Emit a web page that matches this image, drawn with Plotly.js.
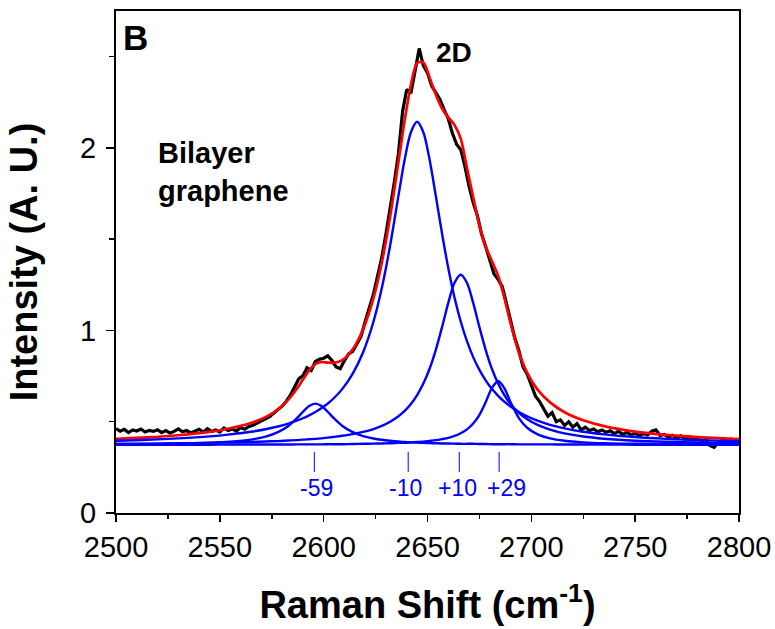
<!DOCTYPE html>
<html>
<head>
<meta charset="utf-8">
<script src="https://cdn.plot.ly/plotly-3.0.1.min.js"></script>
<style>html,body{margin:0;padding:0;background:#fff;}#chart{width:775px;height:629px;}</style>
</head>
<body>
<div id="chart"></div>
<script>
// Measured Raman spectrum (x in cm^-1, intensity in A.U.)
const dataX = [2500,2502,2504,2506,2508,2510,2512,2514,2516,2518,
2520,2522,2524,2526,2528,2530,2532,2534,2536,2538,
2540,2542,2544,2546,2548,2550,2552,2554,2556,2558,
2560,2562,2564,2566,2568,2570,2572,2574,2576,2578,
2580,2582,2584,2586,2588,2590,2592,2594,2596,2598,
2600,2602,2604,2606,2608,2610,2612,2614,2616,2618,
2620,2622,2624,2626,2628,2630,2632,2634,2636,2638,
2640,2642,2644,2646,2648,2650,2652,2654,2656,2658,
2660,2662,2664,2666,2668,2670,2672,2674,2676,2678,
2680,2682,2684,2686,2688,2690,2692,2694,2696,2698,
2700,2702,2704,2706,2708,2710,2712,2714,2716,2718,
2720,2722,2724,2726,2728,2730,2732,2734,2736,2738,
2740,2742,2744,2746,2748,2750,2752,2754,2756,2758,
2760,2762,2764,2766,2768,2770,2772,2774,2776,2778,
2780,2782,2784,2786,2788,2790,2792,2794,2796,2798,2800];
const dataY = [0.462,0.448,0.458,0.441,0.455,0.449,0.460,0.444,0.452,0.447,
0.456,0.440,0.451,0.438,0.447,0.461,0.445,0.452,0.439,0.450,
0.458,0.443,0.462,0.447,0.455,0.444,0.466,0.452,0.460,0.449,
0.468,0.459,0.474,0.481,0.492,0.505,0.517,0.528,0.548,0.566,
0.585,0.612,0.645,0.690,0.735,0.752,0.795,0.781,0.830,0.842,
0.848,0.861,0.835,0.800,0.790,0.835,0.872,0.885,0.930,0.968,
1.050,1.125,1.200,1.300,1.400,1.530,1.665,1.810,1.970,2.200,
2.320,2.300,2.420,2.545,2.450,2.410,2.340,2.300,2.265,2.210,
2.160,2.080,2.020,1.990,1.900,1.790,1.700,1.630,1.530,1.460,
1.390,1.310,1.280,1.240,1.150,1.050,0.960,0.890,0.800,0.760,
0.700,0.640,0.610,0.570,0.530,0.550,0.500,0.510,0.480,0.500,
0.470,0.490,0.455,0.470,0.452,0.460,0.445,0.455,0.442,0.450,
0.435,0.448,0.430,0.442,0.427,0.437,0.425,0.435,0.428,0.448,
0.455,0.425,0.430,0.415,0.425,0.410,0.422,0.405,0.418,0.402,
0.410,0.395,0.405,0.370,0.360,0.385,0.400,0.390,0.405,0.398,0.400];

// Fit curves sampled on a common x grid
const fitX = [2500,2515,2530,2545,2555,2565,2572,2578,2583,2587,
2590,2593,2596,2599,2602,2605,2609,2614,2619,2624,
2628,2632,2636,2639,2642,2645,2648,2651,2654,2657,
2660,2663,2666,2669,2672,2675,2678,2681,2684,2687,
2690,2694,2698,2703,2709,2716,2725,2735,2750,2765,2780,2800];
const fitTotal = [0.406,0.414,0.426,0.444,0.464,0.493,0.525,0.567,0.621,0.679,
0.731,0.781,0.816,0.827,0.824,0.823,0.838,0.897,1.007,1.178,
1.372,1.624,1.923,2.151,2.345,2.465,2.468,2.385,2.293,2.216,
2.167,2.126,2.051,1.890,1.730,1.575,1.460,1.380,1.300,1.180,
1.040,0.879,0.768,0.676,0.606,0.552,0.508,0.476,0.446,0.428,0.416,0.405];
const peakM59 = [0.376,0.378,0.380,0.385,0.391,0.402,0.418,0.443,0.477,0.518,
0.554,0.586,0.599,0.586,0.554,0.518,0.477,0.443,0.421,0.408,
0.401,0.396,0.392,0.389,0.387,0.386,0.384,0.383,0.382,0.381,
0.381,0.380,0.379,0.379,0.379,0.378,0.378,0.377,0.377,0.377,
0.377,0.376,0.376,0.376,0.376,0.375,0.375,0.375,0.374,0.374,0.374,0.374];
const peakM10 = [0.396,0.401,0.409,0.420,0.431,0.445,0.459,0.474,0.490,0.506,
0.519,0.535,0.553,0.575,0.600,0.630,0.680,0.764,0.881,1.049,
1.232,1.465,1.737,1.936,2.086,2.143,2.086,1.936,1.737,1.531,
1.342,1.181,1.049,0.941,0.854,0.784,0.727,0.680,0.642,0.610,
0.583,0.553,0.529,0.506,0.483,0.464,0.445,0.431,0.416,0.406,0.399,0.393];
const peakP10 = [0.379,0.380,0.382,0.384,0.387,0.389,0.392,0.394,0.397,0.399,
0.402,0.404,0.406,0.409,0.413,0.417,0.423,0.432,0.444,0.460,
0.477,0.500,0.530,0.559,0.597,0.646,0.709,0.790,0.894,1.018,
1.151,1.261,1.305,1.261,1.151,1.018,0.894,0.790,0.709,0.646,
0.597,0.549,0.514,0.483,0.457,0.436,0.419,0.407,0.396,0.390,0.386,0.382];
const peakP29 = [0.374,0.374,0.374,0.374,0.375,0.375,0.375,0.375,0.375,0.376,
0.376,0.376,0.376,0.376,0.377,0.377,0.377,0.378,0.379,0.380,
0.381,0.382,0.384,0.385,0.387,0.389,0.391,0.395,0.399,0.405,
0.412,0.422,0.437,0.458,0.490,0.538,0.607,0.684,0.723,0.684,
0.607,0.520,0.467,0.431,0.409,0.396,0.387,0.382,0.379,0.377,0.376,0.375];

// Shift markers
const shiftLabels = ['-59','-10','+10','+29'];
const shiftLinePos = [2595.5,2640.7,2665.3,2684.5];
const shiftLabelPos = [2596.5,2639.5,2664.5,2688.0];
const xTicks = [2500,2550,2600,2650,2700,2750,2800];
const yTicks = [0,1,2];

const FONT = 'Arial, "Liberation Sans", sans-serif';
const BLUE = '#0000ff';

const traces = [
  {x: dataX, y: dataY, mode: 'lines', name: 'Data', line: {color: '#000', width: 3.2}},
  {x: fitX, y: fitTotal, mode: 'lines', name: 'Fit', line: {color: '#ff0000', width: 2.7, shape: 'spline', smoothing: 0.8}},
];
[peakM59, peakM10, peakP10, peakP29].forEach((p, i) => {
  traces.push({x: fitX, y: p, mode: 'lines', name: shiftLabels[i], line: {color: BLUE, width: 2.4, shape: 'spline', smoothing: 0.8}});
});

const shapes = shiftLinePos.map(x => ({
  type: 'line', xref: 'x', yref: 'y', x0: x, x1: x, y0: 0.225, y1: 0.335,
  line: {color: BLUE, width: 1}
}));

const annotations = shiftLabels.map((t, i) => ({
  text: t, xref: 'x', yref: 'y', x: shiftLabelPos[i], y: 0.135,
  xanchor: 'center', yanchor: 'middle', showarrow: false,
  font: {family: FONT, size: 23, color: BLUE}
}));
annotations.push(
  {text: 'B', xref: 'paper', yref: 'paper', x: 0.008, y: 0.948, xanchor: 'left', yanchor: 'middle',
   showarrow: false, font: {family: FONT, size: 35, color: '#000', weight: 'bold'}},
  {text: '2D', xref: 'paper', yref: 'paper', x: 0.511, y: 0.918, xanchor: 'left', yanchor: 'middle',
   showarrow: false, font: {family: FONT, size: 28, color: '#000', weight: 'bold'}},
  {text: 'Bilayer<br>graphene', xref: 'paper', yref: 'paper', x: 0.064, y: 0.680, xanchor: 'left', yanchor: 'middle',
   align: 'left', showarrow: false, font: {family: FONT, size: 29, color: '#000', weight: 'bold'}}
);

const layout = {
  width: 775, height: 629,
  margin: {l: 116, r: 36, t: 11, b: 116},
  paper_bgcolor: '#fff', plot_bgcolor: '#fff',
  showlegend: false,
  font: {family: FONT, color: '#000'},
  xaxis: {
    range: [2500, 2800], tickvals: xTicks, ticktext: xTicks.map(String),
    ticks: 'outside', ticklen: 7, tickwidth: 1.5, tickcolor: '#000',
    minor: {ticks: 'outside', ticklen: 4, tickwidth: 1.5, tickcolor: '#000', dtick: 25, showgrid: false},
    showline: true, linecolor: '#000', linewidth: 2, mirror: true,
    showgrid: false, zeroline: false,
    tickfont: {family: FONT, size: 29, color: '#000'},
    title: {text: 'Raman Shift (cm<sup>-1</sup>)', font: {family: FONT, size: 38, color: '#000', weight: 'bold'}, standoff: 30}
  },
  yaxis: {
    range: [0, 2.75], tickvals: yTicks, ticktext: yTicks.map(String),
    ticks: 'outside', ticklen: 8, tickwidth: 1.5, tickcolor: '#000',
    minor: {ticks: 'outside', ticklen: 5, tickwidth: 1.5, tickcolor: '#000', dtick: 0.5, showgrid: false},
    showline: true, linecolor: '#000', linewidth: 2, mirror: true,
    showgrid: false, zeroline: false,
    tickfont: {family: FONT, size: 29, color: '#000'},
    ticklabelstandoff: 4,
    title: {text: 'Intensity (A. U.)', font: {family: FONT, size: 38, color: '#000', weight: 'bold'}, standoff: 31}
  },
  xaxis2: {
    overlaying: 'x', side: 'top', range: [2500, 2800], dtick: 25, tick0: 2500,
    ticks: 'inside', ticklen: 2, tickwidth: 1, tickcolor: '#999',
    showticklabels: false, showgrid: false, zeroline: false, showline: false
  },
  yaxis2: {
    overlaying: 'y', side: 'right', range: [0, 2.75], dtick: 0.5, tick0: 0,
    ticks: 'inside', ticklen: 3, tickwidth: 1.5, tickcolor: '#000',
    showticklabels: false, showgrid: false, zeroline: false, showline: false
  },
  shapes: shapes,
  annotations: annotations
};

Plotly.newPlot('chart', traces, layout, {displayModeBar: false, staticPlot: true});
</script>
</body>
</html>
